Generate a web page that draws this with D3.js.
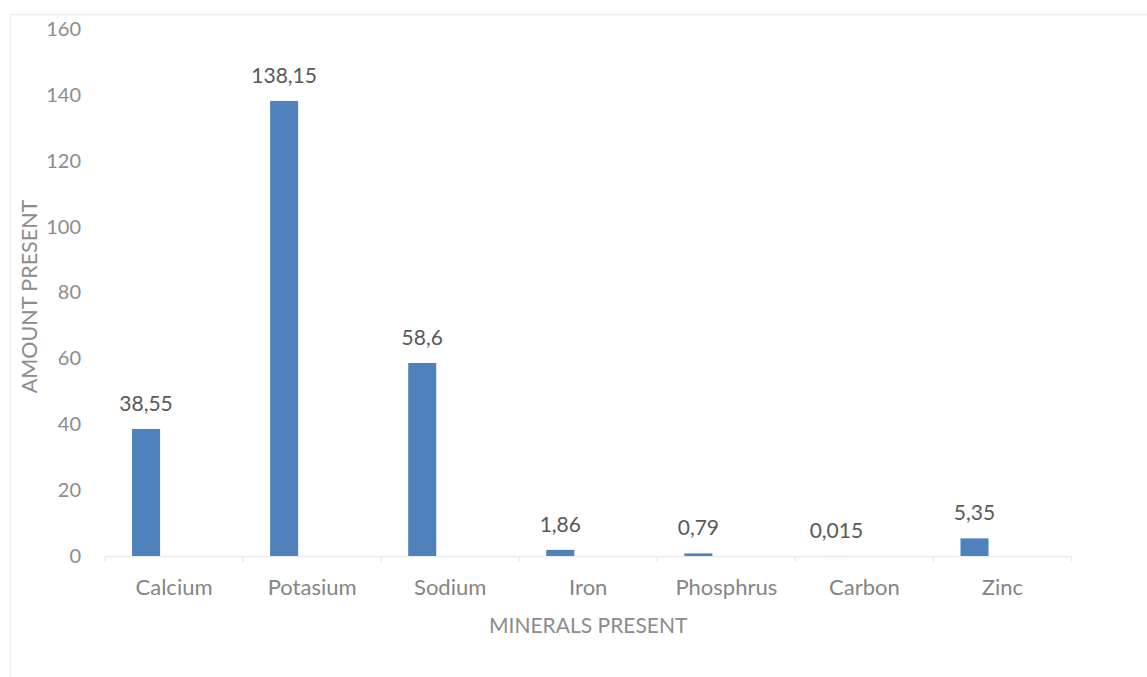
<!DOCTYPE html>
<html>
<head>
<meta charset="utf-8">
<script src="https://cdn.jsdelivr.net/npm/d3@7"></script>
<style>
  html, body { margin: 0; padding: 0; background: #ffffff; }
  svg { display: block; }
  text { font-family: Lato, "Open Sans", sans-serif; }
</style>
</head>
<body>
<svg id="chart" width="1147" height="677"></svg>
<script>
// Mineral content values
const minerals = ["Calcium", "Potasium", "Sodium", "Iron", "Phosphrus", "Carbon", "Zinc"];
const amounts = [38.55, 138.15, 58.6, 1.86, 0.79, 0.015, 5.35];
const amountLabels = ["38,55", "138,15", "58,6", "1,86", "0,79", "0,015", "5,35"];
const yTicks = [0, 20, 40, 60, 80, 100, 120, 140, 160];

const svg = d3.select("#chart");
const W = 1147, H = 677;

// Light frame around the chart area
svg.append("rect")
  .attr("x", 10.5).attr("y", 14.5)
  .attr("width", W + 10).attr("height", H + 10)
  .attr("fill", "#ffffff")
  .attr("stroke", "#f0f0f0")
  .attr("stroke-width", 1.5);

const plot = { left: 105, right: 1071.5, top: 29, bottom: 556 };

const x = d3.scaleBand()
  .domain(minerals)
  .range([plot.left, plot.right])
  .padding(0);

const y = d3.scaleLinear()
  .domain([0, 160])
  .range([plot.bottom, plot.top]);

// Bars sit in the left part of each category slot
const barOffset = x.bandwidth() * 0.196;
const barWidth = x.bandwidth() * 0.203;

// Y axis labels (no line, no ticks)
const yAxis = svg.append("g")
  .attr("transform", `translate(${plot.left - 24},0)`)
  .call(d3.axisLeft(y).tickValues(yTicks).tickSize(0).tickPadding(0));
yAxis.select(".domain").remove();
yAxis.selectAll("text")
  .attr("fill", "#8c8c8c")
  .style("font-size", "20px");

// X axis with category separators
const xAxis = svg.append("g")
  .attr("transform", `translate(0,${plot.bottom})`)
  .call(d3.axisBottom(x).tickSize(0).tickPadding(0));
xAxis.select(".domain")
  .attr("stroke", "#ececec")
  .attr("stroke-width", 1.5);
xAxis.selectAll("text")
  .attr("fill", "#858585")
  .attr("dy", "1.12em")
  .attr("y", 14)
  .style("font-size", "22px");

const edges = minerals.map(m => x(m)).concat([plot.right]);
svg.append("g")
  .selectAll("line")
  .data(edges)
  .join("line")
  .attr("x1", d => d).attr("x2", d => d)
  .attr("y1", plot.bottom).attr("y2", plot.bottom + 6)
  .attr("stroke", "#ececec")
  .attr("stroke-width", 1.5);

// Bars
svg.append("g")
  .selectAll("rect")
  .data(minerals)
  .join("rect")
  .attr("x", (d) => x(d) + barOffset)
  .attr("width", barWidth)
  .attr("y", (d, i) => y(amounts[i]))
  .attr("height", (d, i) => plot.bottom - y(amounts[i]))
  .attr("fill", "#4f81bd");

// Value labels above bars
svg.append("g")
  .selectAll("text")
  .data(minerals)
  .join("text")
  .attr("x", (d) => x(d) + barOffset + barWidth / 2)
  .attr("y", (d, i) => y(amounts[i]) - 18)
  .attr("text-anchor", "middle")
  .attr("fill", "#595959")
  .style("font-size", "21px")
  .text((d, i) => amountLabels[i]);

// Axis titles
svg.append("text")
  .attr("x", (plot.left + plot.right) / 2)
  .attr("y", 633)
  .attr("text-anchor", "middle")
  .attr("fill", "#8c8c8c")
  .style("font-size", "21px")
  .text("MINERALS PRESENT");

svg.append("text")
  .attr("transform", `translate(37,${(plot.top + plot.bottom) / 2 + 4}) rotate(-90)`)
  .attr("text-anchor", "middle")
  .attr("fill", "#8c8c8c")
  .style("font-size", "21.5px")
  .text("AMOUNT PRESENT");
</script>
</body>
</html>
